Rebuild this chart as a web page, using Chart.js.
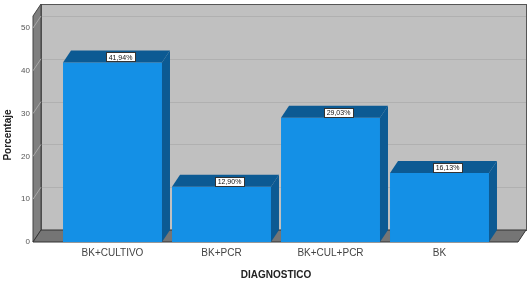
<!DOCTYPE html>
<html>
<head>
  <script src="https://cdnjs.cloudflare.com/ajax/libs/Chart.js/4.4.1/chart.umd.min.js"></script>
  <style>
    body {
      margin: 0;
      background: #fff;
    }
    canvas {
      display: block;
    }
  </style>
</head>
<body>
  <canvas id="chart" width="529" height="284"></canvas>

  <script>
    const categories = ['BK+CULTIVO', 'BK+PCR', 'BK+CUL+PCR', 'BK'];
    const porcentajes = [41.94, 12.90, 29.03, 16.13];
    const valueLabels = ['41,94%', '12,90%', '29,03%', '16,13%'];
    const yTicks = [0, 10, 20, 30, 40, 50];

    // 3d look: depth offset, wall padding around the bars
    const DX = 8, DY = -12;
    const PAD_L = 25, PAD_R = 24;
    const WALL_TOP = 52.8;

    const threeD = {
      id: 'threeD',
      beforeDatasetsDraw(chart) {
        const ctx = chart.ctx;
        const y = chart.scales.y;
        const a = chart.chartArea;
        const l = a.left - PAD_L, r = a.right + PAD_R;
        const b = y.getPixelForValue(0), t = y.getPixelForValue(WALL_TOP);
        ctx.save();
        // back wall
        ctx.fillStyle = '#c0c0c0';
        ctx.fillRect(l + DX, t + DY, r - l, b - t);
        ctx.strokeStyle = '#b0b0b0';
        ctx.lineWidth = 1;
        yTicks.forEach(v => {
          if (v === 0) return;
          const py = Math.round(y.getPixelForValue(v) + DY) + 0.5;
          ctx.beginPath();
          ctx.moveTo(l + DX, py);
          ctx.lineTo(r + DX, py);
          ctx.stroke();
        });
        ctx.strokeStyle = '#555';
        ctx.strokeRect(l + DX + 0.5, t + DY + 0.5, r - l, b - t);
        // left wall
        ctx.fillStyle = '#7f7f7f';
        ctx.beginPath();
        ctx.moveTo(l, t);
        ctx.lineTo(l + DX, t + DY);
        ctx.lineTo(l + DX, b + DY);
        ctx.lineTo(l, b);
        ctx.closePath();
        ctx.fill();
        ctx.strokeStyle = '#444';
        ctx.stroke();
        // diagonal tick lines on left wall
        ctx.strokeStyle = '#a8a8a8';
        yTicks.forEach(v => {
          if (v === 0) return;
          const py = y.getPixelForValue(v);
          ctx.beginPath();
          ctx.moveTo(l, py);
          ctx.lineTo(l + DX, py + DY);
          ctx.stroke();
        });
        // floor
        ctx.fillStyle = '#757575';
        ctx.beginPath();
        ctx.moveTo(l, b);
        ctx.lineTo(l + DX, b + DY);
        ctx.lineTo(r + DX, b + DY);
        ctx.lineTo(r, b);
        ctx.closePath();
        ctx.fill();
        ctx.strokeStyle = '#333';
        ctx.stroke();
        ctx.restore();
      },
      afterDatasetsDraw(chart) {
        const ctx = chart.ctx;
        const meta = chart.getDatasetMeta(0);
        ctx.save();
        meta.data.forEach((bar, i) => {
          const x0 = bar.x - bar.width / 2, x1 = bar.x + bar.width / 2;
          const top = bar.y, base = bar.base;
          ctx.fillStyle = '#0c5a93';
          // top face
          ctx.beginPath();
          ctx.moveTo(x0, top);
          ctx.lineTo(x0 + DX, top + DY);
          ctx.lineTo(x1 + DX, top + DY);
          ctx.lineTo(x1, top);
          ctx.closePath();
          ctx.fill();
          // side face
          ctx.beginPath();
          ctx.moveTo(x1, top);
          ctx.lineTo(x1 + DX, top + DY);
          ctx.lineTo(x1 + DX, base + DY);
          ctx.lineTo(x1, base);
          ctx.closePath();
          ctx.fill();
          // value label
          ctx.font = '7px "Liberation Sans", Arial, sans-serif';
          const txt = valueLabels[i];
          const w = ctx.measureText(txt).width + 6;
          const cx = bar.x + DX, cy = top - 5;
          ctx.fillStyle = '#fff';
          ctx.fillRect(Math.round(cx - w / 2), Math.round(cy - 5), Math.round(w), 10);
          ctx.strokeStyle = '#333';
          ctx.strokeRect(Math.round(cx - w / 2) + 0.5, Math.round(cy - 5) + 0.5, Math.round(w) - 1, 9);
          ctx.fillStyle = '#111';
          ctx.textAlign = 'center';
          ctx.textBaseline = 'middle';
          ctx.fillText(txt, cx, cy + 0.5);
        });
        ctx.restore();
      }
    };

    Chart.defaults.font.family = '"Liberation Sans", Arial, sans-serif';

    new Chart(document.getElementById('chart'), {
      type: 'bar',
      data: {
        labels: categories,
        datasets: [{
          data: porcentajes,
          backgroundColor: '#1490e6',
          borderWidth: 0,
          barPercentage: 0.908,
          categoryPercentage: 1
        }]
      },
      options: {
        responsive: false,
        animation: false,
        devicePixelRatio: 1,
        layout: { padding: { left: 0, right: 35, top: 28, bottom: 0 } },
        plugins: { legend: { display: false }, tooltip: { enabled: false } },
        scales: {
          x: {
            grid: { display: false, drawTicks: false },
            border: { display: false },
            ticks: { font: { size: 10 }, color: '#444', padding: 5 },
            title: { display: true, text: 'DIAGNOSTICO', font: { size: 10, weight: 'bold' }, color: '#222', padding: 3 },
            afterFit: s => { s.height = 42; }
          },
          y: {
            min: 0,
            max: 50,
            afterBuildTicks: s => { s.ticks = yTicks.map(v => ({ value: v })); },
            grid: { display: false, drawTicks: false },
            border: { display: false },
            ticks: { font: { size: 8 }, color: '#555', padding: 28 },
            title: { display: true, text: 'Porcentaje', font: { size: 10, weight: 'bold' }, color: '#222', padding: 2 },
            afterFit: s => { s.width = 58; s.paddingTop = 4; s.paddingBottom = 4; }
          }
        }
      },
      plugins: [threeD]
    });
  </script>
</body>
</html>
